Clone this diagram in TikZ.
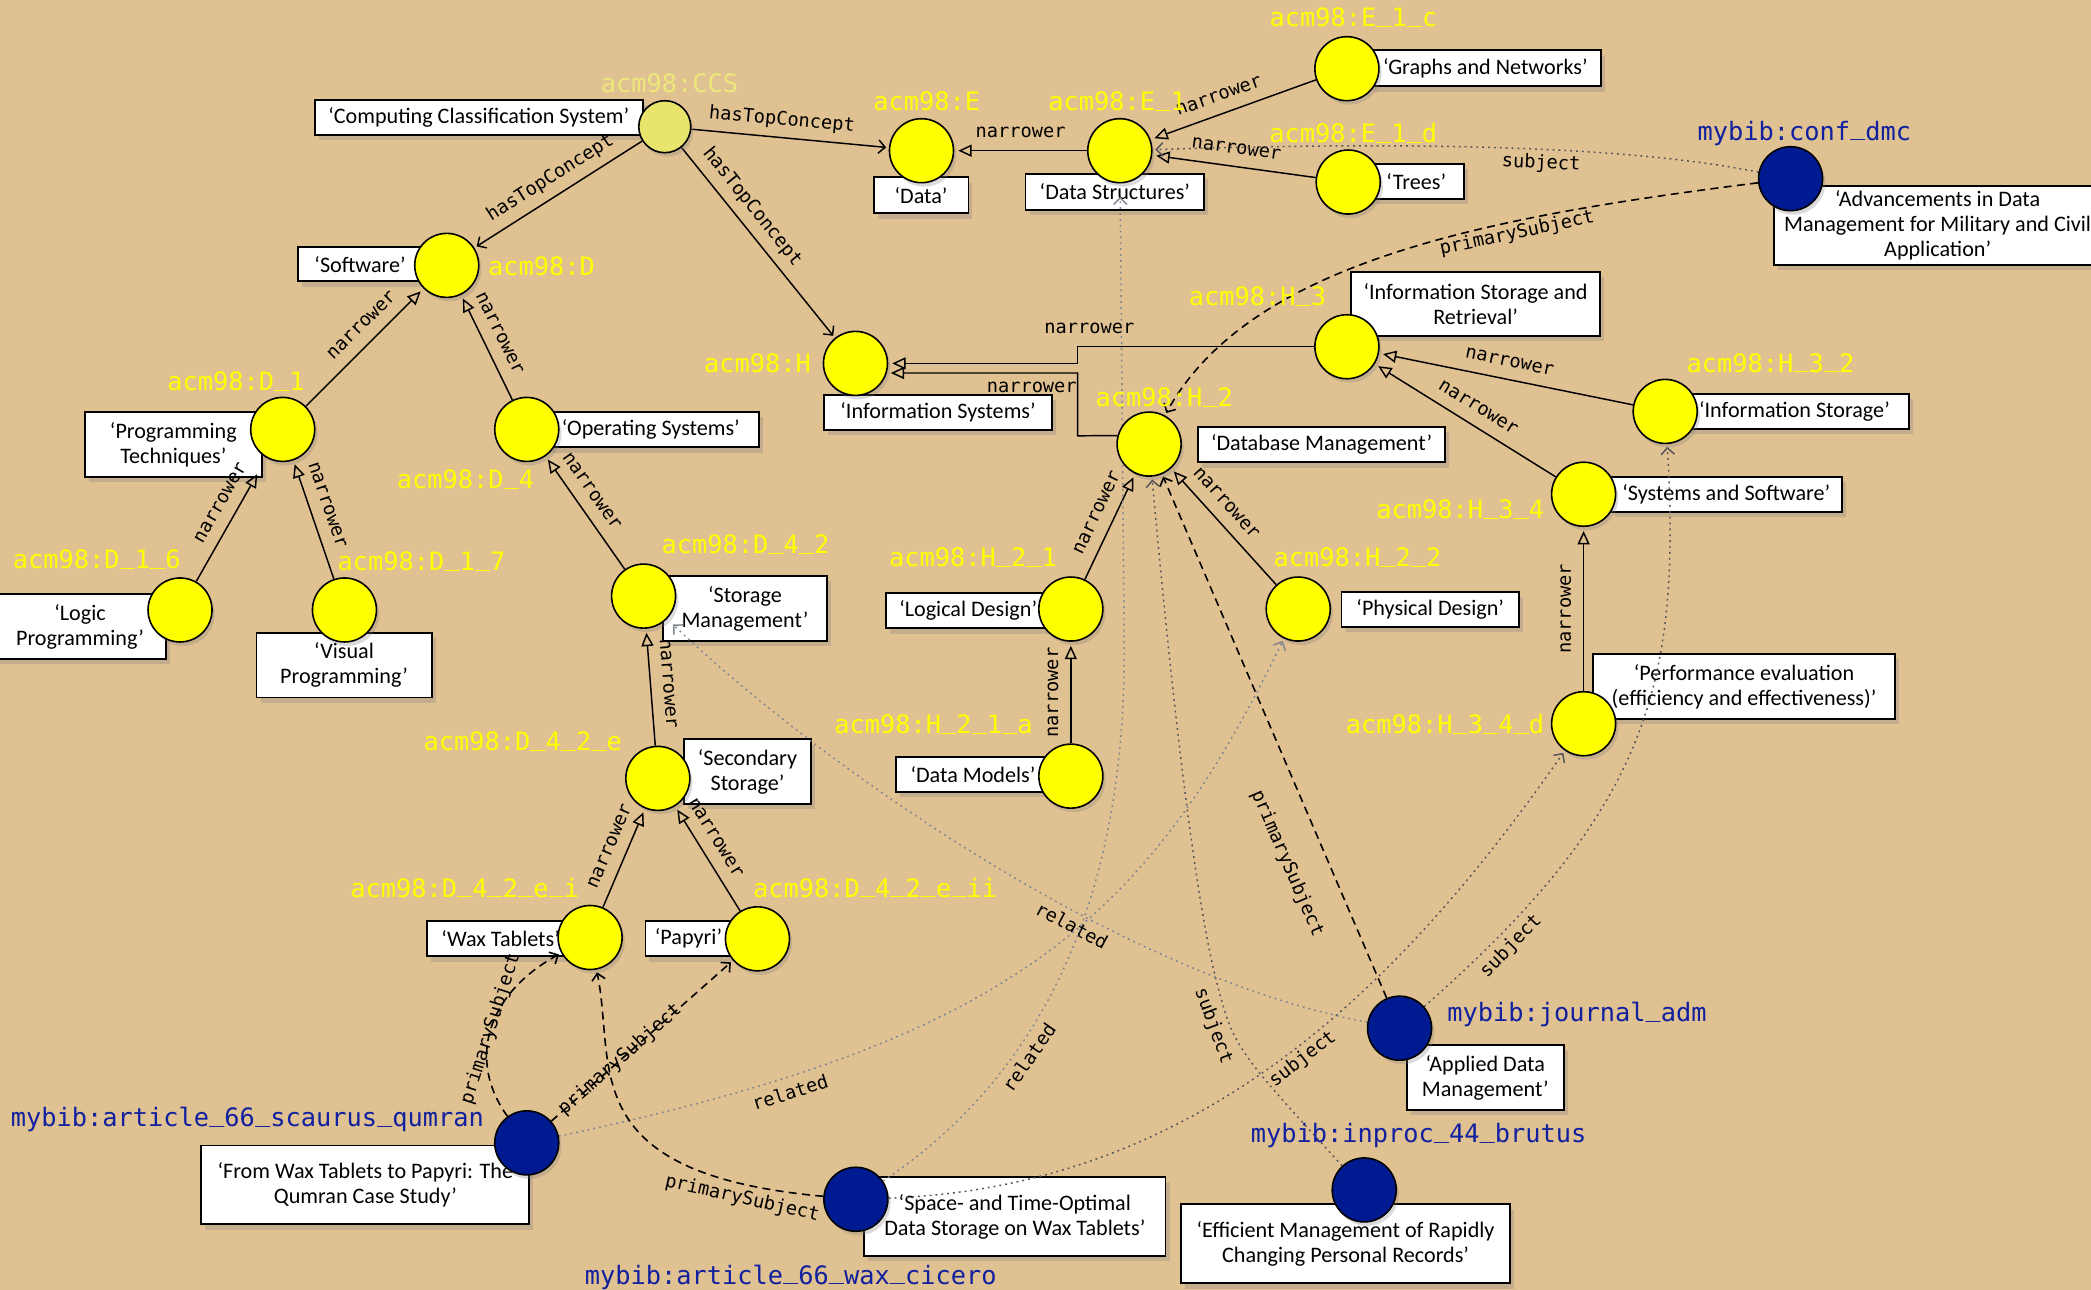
\documentclass[tikz,border=0pt]{standalone}
\usepackage{fontspec}
\setmainfont{Carlito}
\newfontfamily\monofont{DejaVu Sans Mono}
\usetikzlibrary{arrows.meta,shadows}
\pgfdeclarelayer{bglayer}
\pgfdeclarelayer{boxlayer}
\pgfdeclarelayer{edgelayer}
\pgfsetlayers{bglayer,boxlayer,edgelayer,main}
\newcommand\usc{\raisebox{4pt}{\_}}
\definecolor{bgtan}{RGB}{224,193,146}
\definecolor{cyel}{RGB}{255,255,0}
\definecolor{cpale}{RGB}{232,228,108}
\definecolor{cblue}{RGB}{0,26,146}
\definecolor{tyel}{RGB}{255,255,0}
\definecolor{tpale}{RGB}{236,232,122}
\definecolor{tblue}{RGB}{16,32,158}
\definecolor{subjgray}{RGB}{85,85,90}
\definecolor{relgray}{RGB}{128,134,145}
\tikzset{
  concept/.style={circle, draw=black, line width=1.2pt, fill=cyel, minimum size=48pt, inner sep=0pt,
    drop shadow={shadow xshift=2pt, shadow yshift=-3pt, opacity=0.28}},
  paleconcept/.style={concept, fill=cpale, minimum size=39pt},
  resource/.style={concept, fill=cblue},
  lbox/.style={rectangle, draw=black, line width=1.4pt, fill=white, inner sep=0pt, align=center,
    font=\fontsize{16.6}{18.8}\selectfont,
    drop shadow={shadow xshift=3pt, shadow yshift=-4pt, opacity=0.3}},
  idl/.style={font=\monofont\fontsize{19}{21}\selectfont, text=tyel, anchor=base, inner sep=0pt},
  bibl/.style={idl, text=tblue},
  elab/.style={font=\monofont\fontsize{14}{16}\selectfont, sloped, inner sep=1pt, text height=10pt, text depth=3pt, text=black},
  narE/.style={draw=black, line width=1.1pt, shorten >=3pt, -{Triangle[open, length=10pt, width=9pt]}},
  topE/.style={draw=black, line width=1.1pt, shorten >=2pt, -{Straight Barb[length=5pt, width=10pt]}},
  primE/.style={draw=black, line width=1.2pt, dash pattern=on 6pt off 4pt, shorten >=2pt, -{Straight Barb[length=5pt, width=10pt]}},
  subjE/.style={draw=subjgray, line width=1.1pt, dash pattern=on 1.4pt off 3pt, shorten >=2pt, -{Straight Barb[length=5pt, width=10pt]}},
  relE/.style={draw=relgray, line width=1.1pt, dash pattern=on 1.4pt off 3pt, shorten >=2pt, -{Straight Barb[length=5pt, width=10pt]}},
}
\begin{document}
\begin{tikzpicture}[x=1pt,y=-1pt]
\useasboundingbox (0,0) rectangle (1568,967);
\begin{pgfonlayer}{bglayer}
\fill[bgtan] (0,0) rectangle (1568,967);
\end{pgfonlayer}

% ---------- concept circles ----------
\node[paleconcept] (CCS) at (498.5,95) {};
\node[concept] (E) at (691,113) {};
\node[concept] (E1) at (839.7,113) {};
\node[concept] (E1c) at (1010,51.5) {};
\node[concept] (E1d) at (1011,136.5) {};
\node[resource] (dmc) at (1342.7,134) {};
\node[concept] (D) at (335,199) {};
\node[concept] (H) at (641.5,272.5) {};
\node[concept] (H3) at (1010,260) {};
\node[concept] (H32) at (1248.7,308.5) {};
\node[concept] (H2) at (861.7,333) {};
\node[concept] (H34) at (1187.5,370.6) {};
\node[concept] (D1) at (212,322) {};
\node[concept] (D4) at (395,322) {};
\node[concept] (D16) at (135,457.4) {};
\node[concept] (D17) at (258.3,457.4) {};
\node[concept] (D42) at (482.6,447) {};
\node[concept] (H21) at (803,456.7) {};
\node[concept] (H22) at (973.5,456.7) {};
\node[concept] (H34d) at (1187.5,542.7) {};
\node[concept] (D42e) at (493.3,583.7) {};
\node[concept] (H21a) at (803,582) {};
\node[concept] (D42ei) at (442.5,703) {};
\node[concept] (D42eii) at (568,704) {};
\node[resource] (adm) at (1049.5,771) {};
\node[resource] (qumran) at (395,857) {};
\node[resource] (cicero) at (641.8,899.3) {};
\node[resource] (brutus) at (1023,892.3) {};

% ---------- label boxes ----------
\begin{pgfonlayer}{boxlayer}
\node[lbox, minimum width=246pt, minimum height=26pt] (bCCS) at (359,88) {‘Computing Classification System’};
\node[lbox, minimum width=71pt, minimum height=27pt] (bE) at (690.7,146.5) {‘Data’};
\node[lbox, minimum width=134pt, minimum height=27pt] (bE1) at (836,144) {‘Data Structures’};
\node[lbox, minimum width=173pt, minimum height=27pt] (bE1c) at (1113.8,51.3) {‘Graphs and Networks’};
\node[lbox, minimum width=72pt, minimum height=26pt] (bE1d) at (1062,136) {‘Trees’};
\node[lbox, minimum width=245pt, minimum height=59pt] (bdmc) at (1453,169.1) {‘Advancements in Data\\Management for Military and Civil\\Application’};
\node[lbox, minimum width=93pt, minimum height=25.5pt] (bD) at (270,198.2) {‘Software’};
\node[lbox, minimum width=170.7pt, minimum height=26.3pt] (bH) at (703.4,309.4) {‘Information Systems’};
\node[lbox, minimum width=187pt, minimum height=48.3pt] (bH3) at (1106.5,227.9) {‘Information Storage and\\Retrieval’};
\node[lbox, minimum width=172pt, minimum height=26.2pt] (bH32) at (1345.6,308.6) {‘Information Storage’};
\node[lbox, minimum width=185pt, minimum height=26.7pt] (bH2) at (991,333.3) {‘Database Management’};
\node[lbox, minimum width=173pt, minimum height=26.2pt] (bH34) at (1294.5,370.6) {‘Systems and Software’};
\node[lbox, minimum width=132.3pt, minimum height=48.6pt] (bD1) at (130,333.3) {‘Programming\\Techniques’};
\node[lbox, minimum width=162pt, minimum height=26.5pt] (bD4) at (488,322.2) {‘Operating Systems’};
\node[lbox, minimum width=129.6pt, minimum height=48.8pt] (bD16) at (60,469.8) {‘Logic\\Programming’};
\node[lbox, minimum width=131.3pt, minimum height=48.6pt] (bD17) at (258,498.7) {‘Visual\\Programming’};
\node[lbox, minimum width=122.6pt, minimum height=48.7pt] (bD42) at (558.6,456.3) {‘Storage\\Management’};
\node[lbox, minimum width=122.6pt, minimum height=26.8pt] (bH21) at (726,457.8) {‘Logical Design’};
\node[lbox, minimum width=133pt, minimum height=26.3pt] (bH22) at (1072.5,456.8) {‘Physical Design’};
\node[lbox, minimum width=226.5pt, minimum height=48.8pt] (bH34d) at (1307.8,514.8) {‘Performance evaluation\\(efficiency and effectiveness)’};
\node[lbox, minimum width=95pt, minimum height=48.6pt] (bD42e) at (560.5,578.7) {‘Secondary\\Storage’};
\node[lbox, minimum width=115pt, minimum height=26.3pt] (bH21a) at (729.6,580.5) {‘Data Models’};
\node[lbox, minimum width=111pt, minimum height=26.6pt] (bD42ei) at (375.4,703.7) {‘Wax Tablets’};
\node[lbox, minimum width=64.6pt, minimum height=26.6pt] (bD42eii) at (516.3,703.7) {‘Papyri’};
\node[lbox, minimum width=117.6pt, minimum height=48.8pt] (badm) at (1113.8,808) {‘Applied Data\\Management’};
\node[lbox, minimum width=246pt, minimum height=59pt] (bqumran) at (274,888.5) {‘From Wax Tablets to Papyri: The\\Qumran Case Study’};
\node[lbox, minimum width=226pt, minimum height=59.3pt] (bcicero) at (761,912.3) {‘Space- and Time-Optimal\\Data Storage on Wax Tablets’};
\node[lbox, minimum width=246.7pt, minimum height=59.4pt] (bbrutus) at (1009,932.7) {‘Efficient Management of Rapidly\\Changing Personal Records’};
\end{pgfonlayer}

% ---------- connectors ----------
\begin{pgfonlayer}{edgelayer}
\draw[topE] (CCS) -- (E) node[elab,pos=0.45,above=5pt] (t1) {hasTopConcept};
\draw[topE] (CCS) -- (D) node[elab,pos=0.49,above=5pt] (t2) {hasTopConcept};
\draw[topE] (CCS) -- (H) node[elab,pos=0.37,above=5pt] (t3) {hasTopConcept};
\draw[narE] (E1) -- (E) node[elab,pos=0.5,above=5pt] (t4) {narrower};
\draw[narE] (E1c) -- (E1) node[elab,pos=0.55,above=5pt] (t5) {narrower};
\draw[narE] (E1d) -- (E1) node[elab,pos=0.5,above=5pt] (t6) {narrower};
\draw[narE] (H3.west) -- (808,260) node[elab,pos=0.95,above=5pt] (t7) {narrower} |- (H.east);
\draw[narE] (H2.165) -- (808,326.8) |- (H.-17) node[elab,pos=0.62,below=3pt] (t8) {narrower};
\draw[narE] (H32) -- (H3) node[elab,pos=0.5,above=5pt] (t9) {narrower};
\draw[narE] (H34) -- (H3) node[elab,pos=0.48,above=5pt] (t10) {narrower};
\draw[narE] (H21) -- (H2) node[elab,pos=0.56,above=5pt] (t11) {narrower};
\draw[narE] (H22) -- (H2) node[elab,pos=0.6,above=5pt] (t12) {narrower};
\draw[narE] (H21a) -- (H21) node[elab,pos=0.5,above=5pt] (t13) {narrower};
\draw[narE] (H34d) -- (H34) node[elab,pos=0.5,above=5pt] (t14) {narrower};
\draw[narE] (D1) -- (D) node[elab,pos=0.58,above=5pt] (t15) {narrower};
\draw[narE] (D4) -- (D) node[elab,pos=0.56,above=5pt] (t16) {narrower};
\draw[narE, shorten >=14pt] (D16) -- (D1) node[elab,pos=0.565,above=5pt] (t17) {narrower};
\draw[narE] (D17) -- (D1) node[elab,pos=0.575,above=5pt] (t18) {narrower};
\draw[narE] (D42) -- (D4) node[elab,pos=0.6,above=5pt] (t19) {narrower};
\draw[narE] (D42e) -- (D42) node[elab,pos=0.52,above=5pt] (t20) {narrower};
\draw[narE] (D42ei) -- (D42e) node[elab,pos=0.55,above=5pt] (t21) {narrower};
\draw[narE] (D42eii) -- (D42e) node[elab,pos=0.61,above=5pt] (t22) {narrower};

\draw[primE] (dmc) .. controls (1118.8,162.2) and (937.8,195) .. (H2) node[elab,pos=0.32,below=1.5pt] (t23) {primarySubject};
\draw[subjE] (dmc) .. controls (1200,105) and (1000,108) .. (E1) node[elab,pos=0.38,below=3pt] (t24) {subject};
\draw[primE] (adm) -- (H2) node[elab,pos=0.286,below=21pt] (t25) {primarySubject};
\draw[subjE] (brutus) .. controls (925,785) .. (912,735) node[elab,pos=0.75,below=4pt] (t26) {subject} .. controls (892,657) and (872,450) .. (H2);
\draw[subjE] (adm) .. controls (1236.8,606.6) and (1260.6,512.5) .. (H32) node[elab,pos=0.125,below=4pt] (t27) {subject};
\draw[subjE] (cicero) .. controls (900,890) and (1050,740) .. (H34d) node[elab,pos=0.52,below=2pt] (t28) {subject};
\draw[relE, shorten >=6pt] (adm) .. controls (830,730) and (600,560) .. (D42) node[elab,pos=0.36,below=4pt] (t29) {related};
\draw[relE] (qumran) .. controls (760,780) and (860,690) .. (H22) node[elab,pos=0.19,below=5pt] (t30) {related};
\draw[relE, shorten >=10pt] (cicero) .. controls (790,800) and (845,660) .. (843,480) node[elab,pos=0.32,below=4pt] (t31) {related} -- (E1);
\draw[primE] (qumran) .. controls (350,795) and (365,745) .. (D42ei) node[elab,pos=0.5] (t32) {primarySubject};
\draw[primE] (qumran) -- (D42eii) node[elab,pos=0.38] (t33) {primarySubject};
\draw[primE] (cicero) .. controls (430,880) and (462,800) .. (D42ei) node[elab,pos=0.12,below=3pt] (t34) {primarySubject};
\end{pgfonlayer}

% ---------- identifiers ----------
\node[idl, text=tpale] (lCCS) at (502,69) {acm98:CCS};
\node[idl] (lE) at (695,82.8) {acm98:E};
\node[idl] (lE1) at (837.7,82.8) {acm98:E\usc1};
\node[idl] (lE1c) at (1015,20.2) {acm98:E\usc1\usc c};
\node[idl] (lE1d) at (1014.7,107) {acm98:E\usc1\usc d};
\node[bibl] (ldmc) at (1353,105) {mybib:conf\usc dmc};
\node[idl] (lD) at (406,206.6) {acm98:D};
\node[idl] (lH) at (568,279.5) {acm98:H};
\node[idl] (lH3) at (943,229) {acm98:H\usc3};
\node[idl] (lH32) at (1327.6,279) {acm98:H\usc3\usc2};
\node[idl] (lH2) at (873,305) {acm98:H\usc2};
\node[idl] (lH34) at (1095,389) {acm98:H\usc3\usc4};
\node[idl] (lD1) at (177,292.7) {acm98:D\usc1};
\node[idl] (lD4) at (349,366.5) {acm98:D\usc4};
\node[idl] (lD16) at (72.5,426.5) {acm98:D\usc1\usc6};
\node[idl] (lD17) at (316,427.7) {acm98:D\usc1\usc7};
\node[idl] (lD42) at (559,415) {acm98:D\usc4\usc2};
\node[idl] (lH21) at (729.7,425) {acm98:H\usc2\usc1};
\node[idl] (lH22) at (1018,425) {acm98:H\usc2\usc2};
\node[idl] (lD42e) at (392,562.7) {acm98:D\usc4\usc2\usc e};
\node[idl] (lH21a) at (700,550) {acm98:H\usc2\usc1\usc a};
\node[idl] (lH34d) at (1083.6,550) {acm98:H\usc3\usc4\usc d};
\node[idl] (lD42ei) at (348.5,672.7) {acm98:D\usc4\usc2\usc e\usc i};
\node[idl] (lD42eii) at (656.3,672.7) {acm98:D\usc4\usc2\usc e\usc ii};
\node[bibl] (ladm) at (1182.5,766.3) {mybib:journal\usc adm};
\node[bibl] (lqumran) at (185.5,845) {mybib:article\usc66\usc scaurus\usc qumran};
\node[bibl] (lcicero) at (593,963) {mybib:article\usc66\usc wax\usc cicero};
\node[bibl] (lbrutus) at (1063.8,857) {mybib:inproc\usc44\usc brutus};
\end{tikzpicture}
\end{document}
